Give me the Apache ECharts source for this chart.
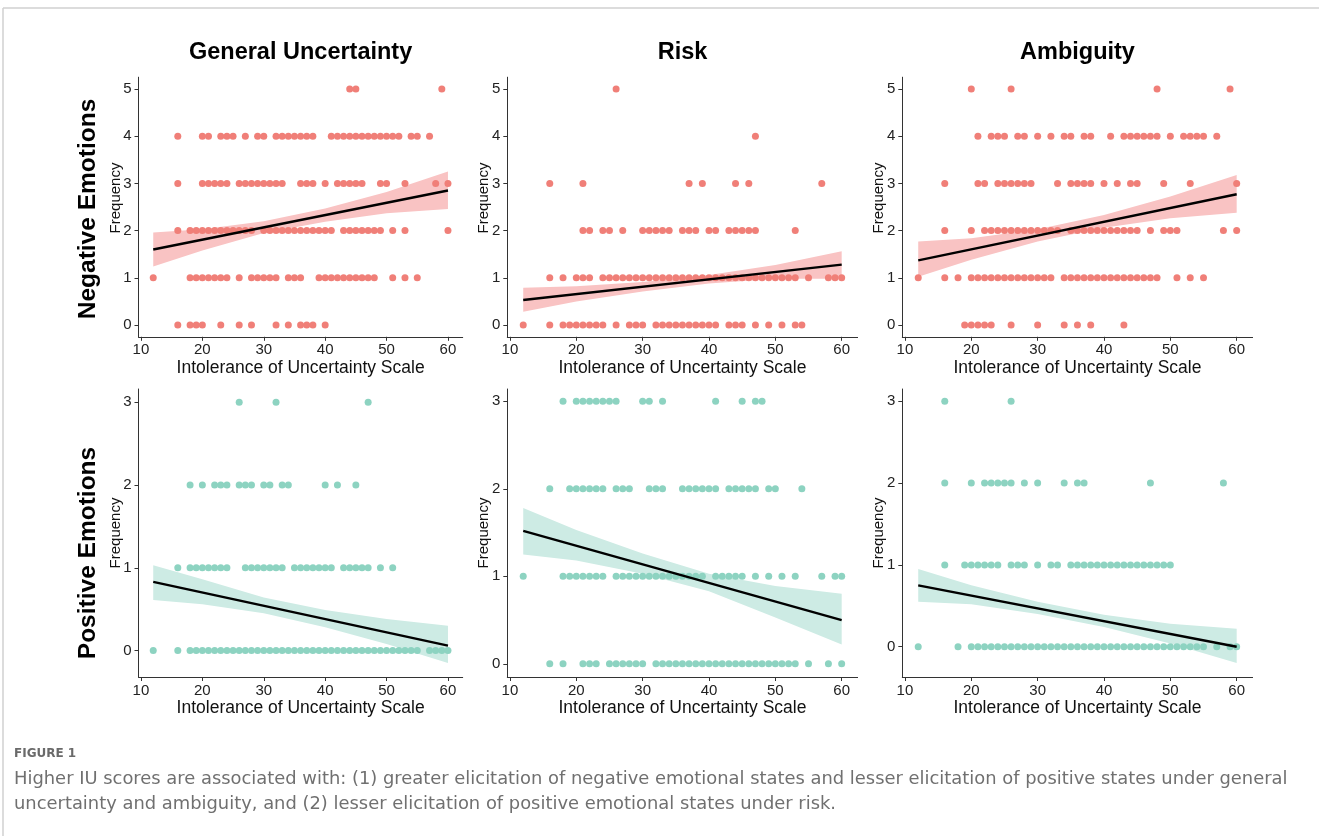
<!DOCTYPE html>
<html>
<head>
<meta charset="utf-8">
<script src="https://cdn.jsdelivr.net/npm/echarts@6/dist/echarts.min.js"></script>
<style>
html, body { margin: 0; padding: 0; background: #fff; }
#chart { width: 1319px; height: 836px; }
</style>
</head>
<body>
<div id="chart"></div>
<script>
// IU score of each respondent, grouped by frequency (index = frequency 0,1,2,...)
const negGeneral = [
  [16, 18, 19, 20, 23, 26, 28, 32, 34, 36, 37, 38, 40],
  [12, 18, 19, 20, 21, 22, 23, 24, 26, 28, 29, 30, 31, 32, 34, 35, 36, 39, 40, 41, 42, 43, 44, 45, 46, 47, 48, 51, 53, 55],
  [16, 18, 19, 20, 21, 22, 23, 24, 25, 26, 27, 28, 30, 31, 32, 33, 34, 35, 36, 37, 38, 39, 40, 41, 43, 44, 45, 46, 47, 48, 49, 51, 53, 60],
  [16, 20, 21, 22, 23, 24, 26, 27, 28, 29, 30, 31, 32, 33, 36, 37, 38, 40, 42, 43, 44, 45, 46, 49, 50, 53, 58, 60],
  [16, 20, 21, 23, 24, 25, 27, 29, 30, 32, 33, 34, 35, 36, 37, 38, 41, 42, 43, 44, 45, 46, 47, 48, 49, 50, 51, 52, 54, 55, 57],
  [44, 45, 59]
]
const negRisk = [
  [12, 16, 18, 19, 20, 21, 22, 23, 24, 26, 28, 29, 30, 32, 33, 34, 35, 36, 37, 38, 39, 40, 41, 43, 44, 45, 47, 49, 51, 53, 54],
  [16, 18, 20, 21, 22, 24, 25, 26, 27, 28, 29, 30, 31, 32, 33, 34, 35, 36, 37, 38, 39, 40, 41, 42, 43, 44, 45, 46, 47, 48, 49, 50, 51, 52, 53, 55, 58, 59, 60],
  [21, 22, 24, 25, 27, 30, 31, 32, 33, 34, 36, 37, 38, 40, 41, 43, 44, 45, 46, 47, 53],
  [16, 21, 37, 39, 44, 46, 57],
  [47],
  [26]
]
const negAmbiguity = [
  [19, 20, 21, 22, 23, 26, 30, 34, 36, 38, 43],
  [12, 16, 18, 20, 21, 22, 23, 24, 25, 26, 27, 28, 29, 30, 31, 32, 34, 35, 36, 37, 38, 39, 40, 41, 42, 43, 44, 45, 46, 47, 48, 51, 53, 55],
  [16, 20, 22, 23, 24, 25, 26, 27, 28, 29, 30, 31, 32, 33, 35, 36, 37, 38, 39, 40, 41, 42, 43, 44, 45, 47, 49, 50, 51, 58, 60],
  [16, 21, 22, 24, 25, 26, 27, 28, 29, 33, 35, 36, 37, 38, 40, 42, 44, 45, 49, 53, 60],
  [21, 23, 24, 25, 27, 28, 30, 32, 34, 35, 37, 38, 41, 43, 44, 45, 46, 47, 48, 50, 52, 53, 54, 55, 57],
  [20, 26, 48, 59]
]
const posGeneral = [
  [12, 16, 18, 19, 20, 21, 22, 23, 24, 25, 26, 27, 28, 29, 30, 31, 32, 33, 34, 35, 36, 37, 38, 39, 40, 41, 42, 43, 44, 45, 46, 47, 48, 49, 50, 51, 52, 53, 54, 55, 57, 58, 59, 60],
  [16, 18, 19, 20, 21, 22, 23, 24, 27, 28, 29, 30, 31, 32, 33, 35, 36, 37, 38, 39, 40, 41, 43, 44, 45, 46, 47, 49, 51],
  [18, 20, 22, 23, 24, 26, 27, 28, 30, 31, 33, 34, 40, 42, 45],
  [26, 32, 47]
]
const posRisk = [
  [16, 18, 21, 22, 23, 25, 26, 27, 28, 29, 30, 32, 33, 34, 35, 36, 37, 38, 39, 40, 41, 42, 43, 44, 45, 46, 47, 48, 49, 50, 51, 52, 53, 55, 58, 60],
  [12, 18, 19, 20, 21, 22, 23, 24, 26, 27, 28, 29, 30, 31, 32, 33, 34, 35, 36, 37, 38, 39, 41, 42, 43, 44, 45, 47, 49, 51, 53, 57, 59, 60],
  [16, 19, 20, 21, 22, 23, 24, 26, 27, 28, 31, 32, 33, 36, 37, 38, 39, 40, 41, 43, 44, 45, 46, 47, 49, 50, 54],
  [18, 20, 21, 22, 23, 24, 25, 26, 30, 31, 33, 41, 45, 47, 48]
]
const posAmbiguity = [
  [12, 18, 20, 21, 22, 23, 24, 25, 26, 27, 28, 29, 30, 31, 32, 33, 34, 35, 36, 37, 38, 39, 40, 41, 42, 43, 44, 45, 46, 47, 48, 49, 50, 51, 52, 53, 54, 55, 57, 59, 60],
  [16, 19, 20, 21, 22, 23, 24, 26, 27, 28, 30, 32, 33, 35, 36, 37, 38, 39, 40, 41, 42, 43, 44, 45, 46, 47, 48, 49, 50],
  [16, 20, 22, 23, 24, 25, 26, 28, 30, 34, 36, 37, 47, 58],
  [16, 26]
]

// fitted lines (value at x = 12 and x = 60)
const fitX = [12, 60]
const negGeneralFit = [1.60, 2.85]
const negRiskFit = [0.53, 1.28]
const negAmbiguityFit = [1.37, 2.77]
const posGeneralFit = [0.83, 0.06]
const posRiskFit = [1.52, 0.50]
const posAmbiguityFit = [0.75, 0.00]

// confidence band, lower / upper edge
const bandX = [12, 20, 30, 40, 50, 60]
const negGeneralLo = [1.24, 1.58, 1.95, 2.19, 2.37, 2.46]
const negGeneralHi = [1.96, 2.03, 2.20, 2.47, 2.82, 3.25]
const negRiskLo = [0.28, 0.50, 0.71, 0.88, 0.98, 0.98]
const negRiskHi = [0.79, 0.82, 0.91, 1.06, 1.27, 1.56]
const negAmbiguityLo = [1.02, 1.38, 1.77, 2.06, 2.26, 2.38]
const negAmbiguityHi = [1.77, 1.84, 2.03, 2.33, 2.72, 3.18]
const posGeneralLo = [0.61, 0.56, 0.45, 0.28, 0.08, -0.15]
const posGeneralHi = [1.03, 0.86, 0.64, 0.49, 0.38, 0.30]
const posRiskLo = [1.25, 1.18, 1.03, 0.83, 0.53, 0.22]
const posRiskHi = [1.78, 1.53, 1.26, 1.03, 0.89, 0.80]
const posAmbiguityLo = [0.55, 0.52, 0.40, 0.24, 0.04, -0.20]
const posAmbiguityHi = [0.95, 0.75, 0.55, 0.39, 0.28, 0.22]

const xTicks = [10, 20, 30, 40, 50, 60]
const negTicks = [0, 1, 2, 3, 4, 5]
const posTicks = [0, 1, 2, 3]

const colTitles = ['General Uncertainty', 'Risk', 'Ambiguity']
const rowTitles = ['Negative Emotions', 'Positive Emotions']
const xName = 'Intolerance of Uncertainty Scale'
const yName = 'Frequency'

const red = '#F07F78'
const redBand = '#F9C3C3'
const teal = '#8DD3C1'
const tealBand = '#CDEBE4'
const font = 'Liberation Sans, Arial, sans-serif'

const panels = [
  { pts: negGeneral, fit: negGeneralFit, lo: negGeneralLo, hi: negGeneralHi, ticks: negTicks, ymin: -0.25, ymax: 5.25, left: 138.5, width: 324.2, top: 77.2, height: 259.6, c: red, b: redBand },
  { pts: negRisk, fit: negRiskFit, lo: negRiskLo, hi: negRiskHi, ticks: negTicks, ymin: -0.25, ymax: 5.25, left: 507.3, width: 350.3, top: 77.2, height: 259.6, c: red, b: redBand },
  { pts: negAmbiguity, fit: negAmbiguityFit, lo: negAmbiguityLo, hi: negAmbiguityHi, ticks: negTicks, ymin: -0.25, ymax: 5.25, left: 902.3, width: 350.3, top: 77.2, height: 259.6, c: red, b: redBand },
  { pts: posGeneral, fit: posGeneralFit, lo: posGeneralLo, hi: posGeneralHi, ticks: posTicks, ymin: -0.32, ymax: 3.16, left: 138.5, width: 324.2, top: 389, height: 288, c: teal, b: tealBand },
  { pts: posRisk, fit: posRiskFit, lo: posRiskLo, hi: posRiskHi, ticks: posTicks, ymin: -0.15, ymax: 3.14, left: 507.3, width: 350.3, top: 389, height: 288, c: teal, b: tealBand },
  { pts: posAmbiguity, fit: posAmbiguityFit, lo: posAmbiguityLo, hi: posAmbiguityHi, ticks: posTicks, ymin: -0.37, ymax: 3.15, left: 902.3, width: 350.3, top: 389, height: 288, c: teal, b: tealBand }
]

let grids = [], xAxes = [], yAxes = [], series = []
let graphics = [
  { type: 'line', shape: { x1: 3, y1: 8, x2: 1319, y2: 8 }, style: { stroke: '#d0d0d0', lineWidth: 1.5 } },
  { type: 'line', shape: { x1: 3, y1: 8, x2: 3, y2: 836 }, style: { stroke: '#d0d0d0', lineWidth: 1.5 } }
]
panels.forEach((p, i) => {
  grids.push({ left: p.left, top: p.top, width: p.width, height: p.height })
  xAxes.push({
    gridIndex: i, type: 'value', min: 9.6, max: 62.4,
    name: xName, nameLocation: 'middle', nameGap: 21,
    nameTextStyle: { fontSize: 17.5, color: '#111', fontFamily: font },
    axisLine: { onZero: false, lineStyle: { color: '#333', width: 1 } },
    axisTick: { customValues: xTicks, length: 4, lineStyle: { color: '#333' } },
    axisLabel: { customValues: xTicks, fontSize: 15, color: '#222', margin: 6, fontFamily: font },
    splitLine: { show: false }
  })
  yAxes.push({
    gridIndex: i, type: 'value', min: p.ymin, max: p.ymax,
    axisLine: { onZero: false, lineStyle: { color: '#333', width: 1 } },
    axisTick: { customValues: p.ticks, length: 4, lineStyle: { color: '#333' } },
    axisLabel: { customValues: p.ticks, fontSize: 15, color: '#222', margin: 7, fontFamily: font },
    splitLine: { show: false }
  })
  // "Frequency" sits a little above the panel middle in the original figure
  graphics.push({ type: 'text', x: p.left - 23, y: i < 3 ? 198 : 533, rotation: Math.PI / 2,
    style: { text: yName, font: '15px ' + font, fill: '#111', textAlign: 'center', textVerticalAlign: 'middle' } })
  let data = []
  p.pts.forEach((xs, f) => xs.forEach(x => data.push([x, f])))
  series.push({
    type: 'custom', xAxisIndex: i, yAxisIndex: i, silent: true, z: 1,
    data: bandX.map((x, k) => [x, p.lo[k], p.hi[k]]),
    encode: { x: 0, y: [1, 2] },
    renderItem: function(params, api) {
      if (params.dataIndex !== 0) return
      let points = []
      for (let k = 0; k < bandX.length; k++) points.push(api.coord([bandX[k], p.lo[k]]))
      for (let k = bandX.length - 1; k >= 0; k--) points.push(api.coord([bandX[k], p.hi[k]]))
      return { type: 'polygon', shape: { points: points }, style: { fill: p.b } }
    }
  })
  series.push({
    type: 'scatter', xAxisIndex: i, yAxisIndex: i, data: data, z: 2,
    symbolSize: 7, itemStyle: { color: p.c, opacity: 1 }
  })
  series.push({
    type: 'line', xAxisIndex: i, yAxisIndex: i, z: 3,
    data: fitX.map((x, k) => [x, p.fit[k]]),
    showSymbol: false, lineStyle: { color: '#000', width: 2.4 }
  })
})

const colCenters = [300.6, 682.5, 1077.5]
colTitles.forEach((t, i) => {
  graphics.push({ type: 'text', x: colCenters[i], y: 53,
    style: { text: t, font: 'bold 23.5px ' + font, fill: '#000', textAlign: 'center', textVerticalAlign: 'middle' } })
})
const rowCenters = [209, 553]
rowTitles.forEach((t, i) => {
  graphics.push({ type: 'text', x: 88, y: rowCenters[i], rotation: Math.PI / 2,
    style: { text: t, font: 'bold 24.5px ' + font, fill: '#000', textAlign: 'center', textVerticalAlign: 'middle' } })
})
graphics.push({ type: 'text', x: 14, y: 754,
  style: { text: 'FIGURE 1', font: 'bold 12px DejaVu Sans', fill: '#6a6a6a', textVerticalAlign: 'middle' } })
graphics.push({ type: 'text', x: 14, y: 779,
  style: { text: 'Higher IU scores are associated with: (1) greater elicitation of negative emotional states and lesser elicitation of positive states under general', font: '17.9px DejaVu Sans', fill: '#707070', textVerticalAlign: 'middle' } })
graphics.push({ type: 'text', x: 14, y: 804,
  style: { text: 'uncertainty and ambiguity, and (2) lesser elicitation of positive emotional states under risk.', font: '17.9px DejaVu Sans', fill: '#707070', textVerticalAlign: 'middle' } })

let myChart = echarts.init(document.getElementById('chart'))
myChart.setOption({
  backgroundColor: '#FFFFFF',
  animation: false,
  grid: grids,
  xAxis: xAxes,
  yAxis: yAxes,
  series: series,
  graphic: graphics
})
window.addEventListener('resize', function() {
  myChart.resize()
})
</script>
</body>
</html>
